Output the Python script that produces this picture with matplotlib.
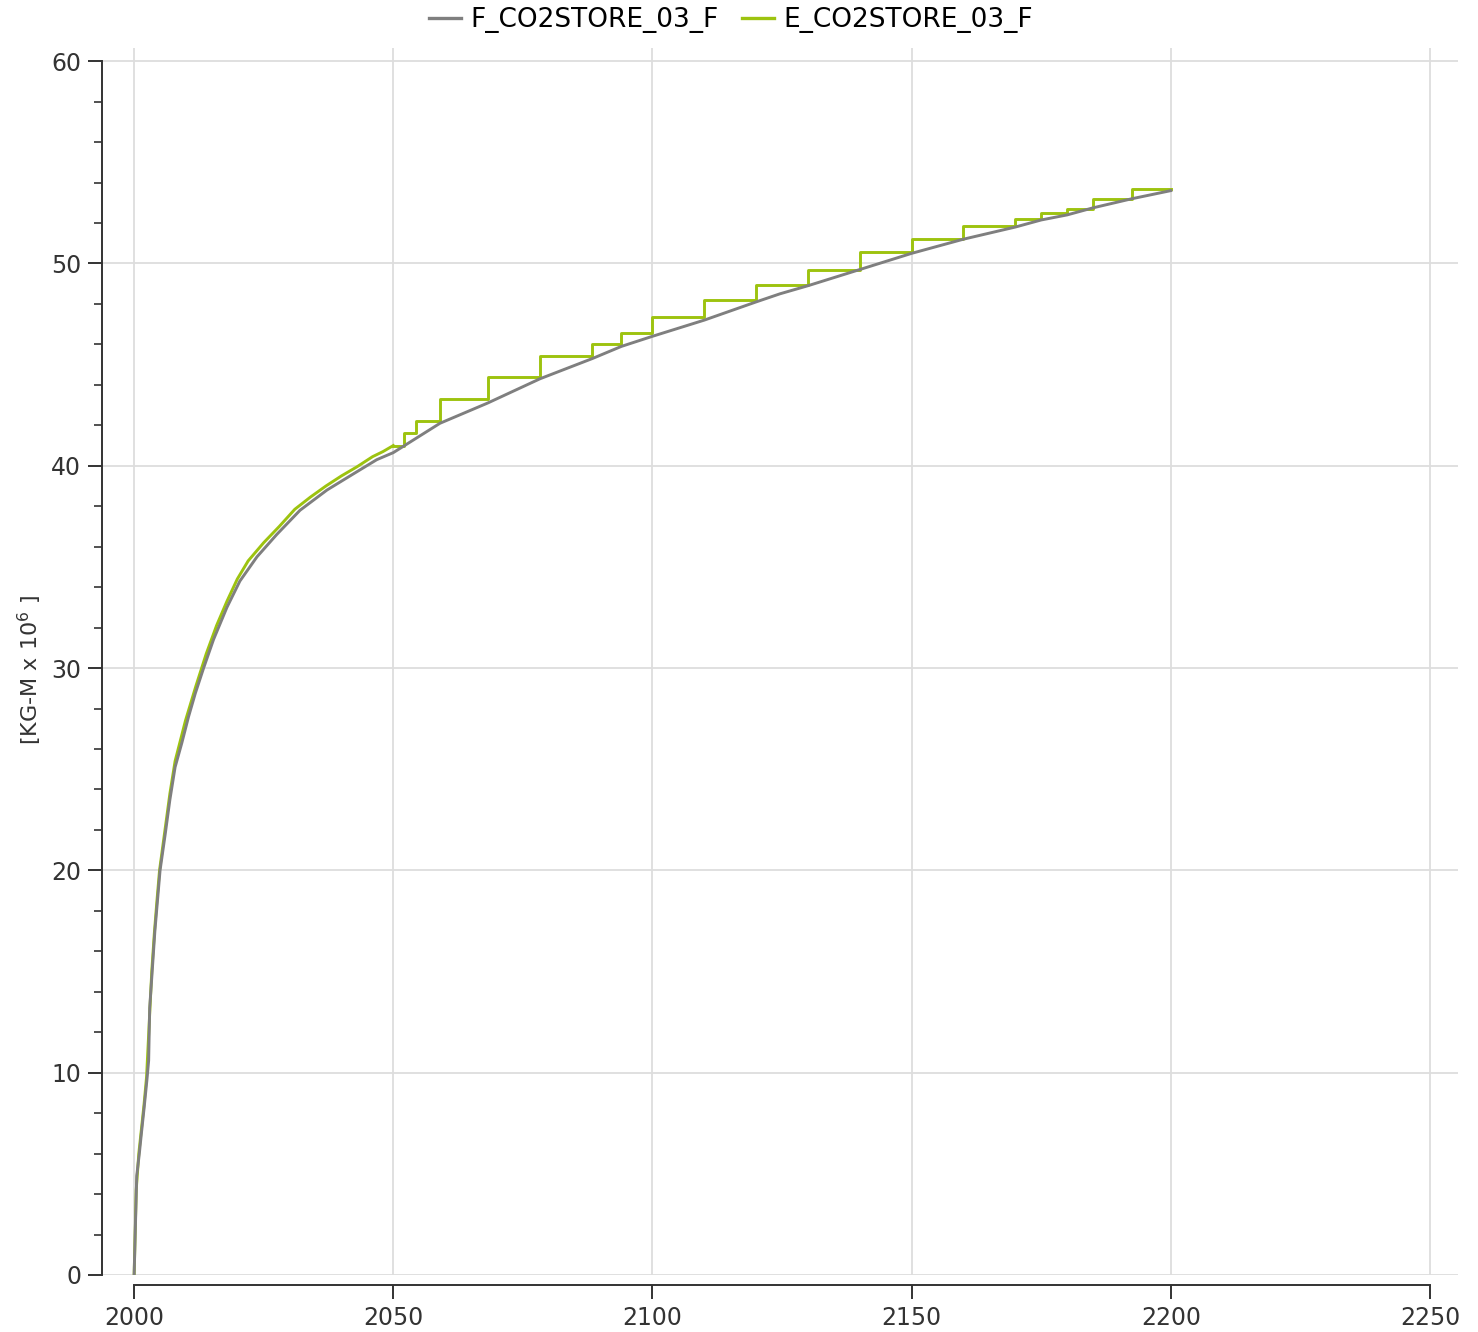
import numpy as np
import matplotlib.pyplot as plt
from matplotlib.ticker import MultipleLocator
from matplotlib.lines import Line2D

# simulated (F) curve
f_years = [2000.0, 2000.1, 2000.5, 2001.0, 2001.4, 2001.9, 2002.45, 2002.8, 2003.0, 2003.4,
           2004.0, 2004.5, 2005.0, 2006.0, 2006.9, 2007.9, 2009.2, 2010.5, 2011.8, 2013.4,
           2015.3, 2017.9, 2020.4, 2023.7, 2027.5, 2032.0, 2037.2, 2042.3, 2046.8, 2050.0,
           2059.0, 2068.2, 2078.3, 2088.4, 2094.0, 2100.0, 2110.0, 2120.0, 2124.6, 2130.0,
           2140.0, 2150.0, 2160.0, 2170.0, 2175.0, 2180.0, 2185.0, 2192.5, 2200.0]
f_vals = [0.0, 1.0, 4.9, 6.0, 7.0, 8.2, 9.6, 10.6, 13.2, 14.7,
          17.0, 18.5, 20.0, 21.8, 23.5, 25.1, 26.3, 27.6, 28.75, 30.0,
          31.4, 33.0, 34.3, 35.5, 36.6, 37.8, 38.8, 39.6, 40.3, 40.65,
          42.1, 43.1, 44.3, 45.3, 45.9, 46.4, 47.2, 48.1, 48.5, 48.9,
          49.7, 50.5, 51.2, 51.8, 52.15, 52.4, 52.75, 53.2, 53.6]

# observed (E) curve: smooth early part, then stepwise reports
e_years = [2000.0, 2000.4, 2000.9, 2001.4, 2001.9, 2002.4, 2002.9, 2003.4, 2003.9, 2004.4,
           2004.9, 2005.9, 2006.9, 2007.9, 2008.9, 2009.9, 2011.9, 2013.9, 2015.9, 2017.9,
           2019.9, 2022.0, 2025.0, 2028.0, 2031.0, 2034.0, 2037.0, 2040.0, 2043.0, 2046.0,
           2048.0, 2049.0, 2050.0]
e_vals = [0.0, 4.2, 6.0, 7.2, 8.4, 9.8, 12.4, 15.0, 16.9, 18.5,
          20.0, 21.9, 23.8, 25.4, 26.4, 27.4, 29.1, 30.7, 32.1, 33.3,
          34.4, 35.3, 36.2, 37.0, 37.85, 38.45, 39.0, 39.5, 39.95, 40.45,
          40.7, 40.85, 41.0]
e_step_years = [2050.0, 2052.0, 2054.4, 2059.0, 2068.2, 2078.3, 2088.4, 2094.0, 2100.0, 2110.0,
                2120.0, 2130.0, 2140.0, 2150.0, 2160.0, 2170.0, 2175.0, 2180.0, 2185.0, 2192.5,
                2200.0]
e_step_vals = [41.0, 41.6, 42.2, 43.3, 44.4, 45.45, 46.0, 46.55, 47.35, 48.2,
               48.95, 49.7, 50.55, 51.2, 51.85, 52.2, 52.5, 52.7, 53.2, 53.7,
               53.7]

labels = ["F_CO2STORE_03_F", "E_CO2STORE_03_F"]
gray = "#7f7f7f"
green = "#9dc30f"
dark = "#333333"

fig = plt.figure(figsize=(14.78, 13.32), dpi=100)
ax = fig.add_axes([102 / 1478, 57 / 1332, 1356 / 1478, 1227 / 1332])

ax.plot(e_years, e_vals, color=green, lw=2.1, zorder=2)
ax.step(e_step_years, e_step_vals, where="post", color=green, lw=2.1, zorder=2)
ax.plot(f_years, f_vals, color=gray, lw=2.1, zorder=3)

ax.set_xlim(1993.8, 2255.4)
ax.set_ylim(0, 60.65)

ax.spines["top"].set_visible(False)
ax.spines["right"].set_visible(False)
ax.spines["left"].set_bounds(0, 60)
ax.spines["bottom"].set_bounds(2000, 2250)
ax.spines["bottom"].set_position(("outward", 7.2))
for s in ["left", "bottom"]:
    ax.spines[s].set_color(dark)
    ax.spines[s].set_linewidth(1.4)

ax.xaxis.set_major_locator(MultipleLocator(50))
ax.yaxis.set_major_locator(MultipleLocator(10))
ax.yaxis.set_minor_locator(MultipleLocator(2))
ax.tick_params(which="major", length=10, width=1.4, color=dark, labelsize=17,
               labelcolor=dark, pad=5)
ax.tick_params(axis="y", which="minor", length=5.5, width=1.2, color=dark)
ax.grid(True, which="major", color="#dddddd", lw=1.3)
ax.set_axisbelow(True)

fig.text(30 / 1478, 1 - 670 / 1332, "[KG-M x 10$^6$ ]", rotation=90,
         ha="center", va="center", fontsize=16, color=dark)

handles = [Line2D([], [], color=gray, lw=2.4), Line2D([], [], color=green, lw=2.4)]
fig.legend(handles, labels, loc="center", bbox_to_anchor=(0.4946, 0.985), ncol=2,
           frameon=False, handlelength=1.2, handletextpad=0.35, columnspacing=0.9,
           fontsize=19)

fig.savefig("out.png", dpi=100)
